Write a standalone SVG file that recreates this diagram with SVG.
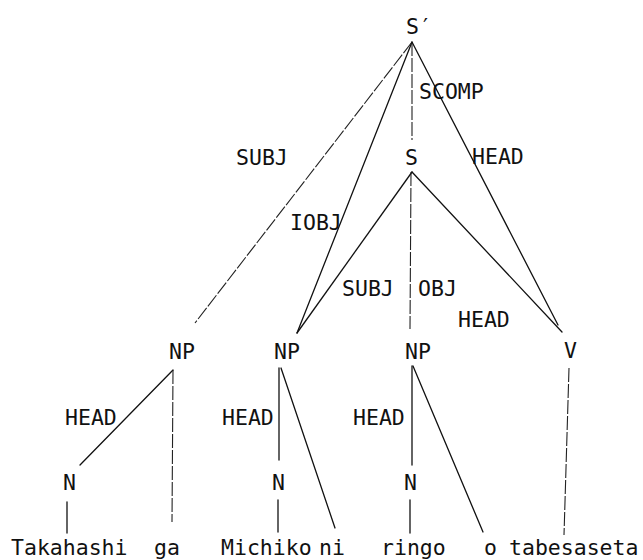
<svg xmlns="http://www.w3.org/2000/svg" width="643" height="560" viewBox="0 0 643 560">
<style>
text{font-family:"DejaVu Sans Mono","Liberation Mono",monospace;font-size:21.5px;fill:#111}
.l{stroke:#111;stroke-width:1.3;fill:none;stroke-linecap:round}
.f{stroke:#222;stroke-width:1.1;fill:none;stroke-dasharray:14 2}
</style>
<rect width="643" height="560" fill="#fff"/>
<g id="connectors">
<line class="f" x1="412" y1="42" x2="195" y2="323"/>
<line class="l" x1="412" y1="42" x2="297" y2="333"/>
<line class="f" x1="412" y1="42" x2="412" y2="140"/>
<line class="l" x1="412" y1="42" x2="558" y2="325"/>
<line class="l" x1="412" y1="172" x2="297" y2="333"/>
<line class="f" x1="411" y1="172" x2="410" y2="329"/>
<line class="l" x1="412" y1="172" x2="562" y2="332"/>
<line class="l" x1="173" y1="370" x2="80" y2="465"/>
<line class="f" x1="173" y1="370" x2="172" y2="522"/>
<line class="l" x1="67" y1="502" x2="67" y2="533"/>
<line class="l" x1="279" y1="368" x2="279" y2="460"/>
<line class="l" x1="281" y1="368" x2="335" y2="528"/>
<line class="l" x1="278" y1="500" x2="278" y2="532"/>
<line class="l" x1="412" y1="366" x2="412" y2="465"/>
<line class="l" x1="413" y1="366" x2="483" y2="532"/>
<line class="l" x1="410" y1="500" x2="410" y2="533"/>
<line class="f" x1="569" y1="368" x2="564" y2="535"/>
</g>
<g id="edge-labels">
<text x="419" y="99">SCOMP</text>
<text x="236" y="165">SUBJ</text>
<text x="472" y="164">HEAD</text>
<text x="290" y="230">IOBJ</text>
<text x="342" y="296">SUBJ</text>
<text x="418" y="296">OBJ</text>
<text x="458" y="327">HEAD</text>
<text x="65" y="425">HEAD</text>
<text x="222" y="425">HEAD</text>
<text x="353" y="425">HEAD</text>
</g>
<g id="node-Sbar"><text x="406" y="34">S′</text></g>
<g id="node-S"><text x="405" y="165">S</text></g>
<g id="node-NP1"><text x="169" y="359">NP</text></g>
<g id="node-NP2"><text x="274" y="359">NP</text></g>
<g id="node-NP3"><text x="405" y="359">NP</text></g>
<g id="node-V"><text x="564" y="358">V</text></g>
<g id="node-N1"><text x="63" y="490">N</text></g>
<g id="node-N2"><text x="272" y="490">N</text></g>
<g id="node-N3"><text x="404" y="490">N</text></g>
<g id="node-Takahashi"><text x="11" y="555">Takahashi</text></g>
<g id="node-ga"><text x="154" y="555">ga</text></g>
<g id="node-Michiko"><text x="221" y="555">Michiko</text></g>
<g id="node-ni"><text x="319" y="555">ni</text></g>
<g id="node-ringo"><text x="381" y="555">ringo</text></g>
<g id="node-o"><text x="484" y="555">o</text></g>
<g id="node-tabesaseta"><text x="509" y="555">tabesaseta</text></g>
</svg>
